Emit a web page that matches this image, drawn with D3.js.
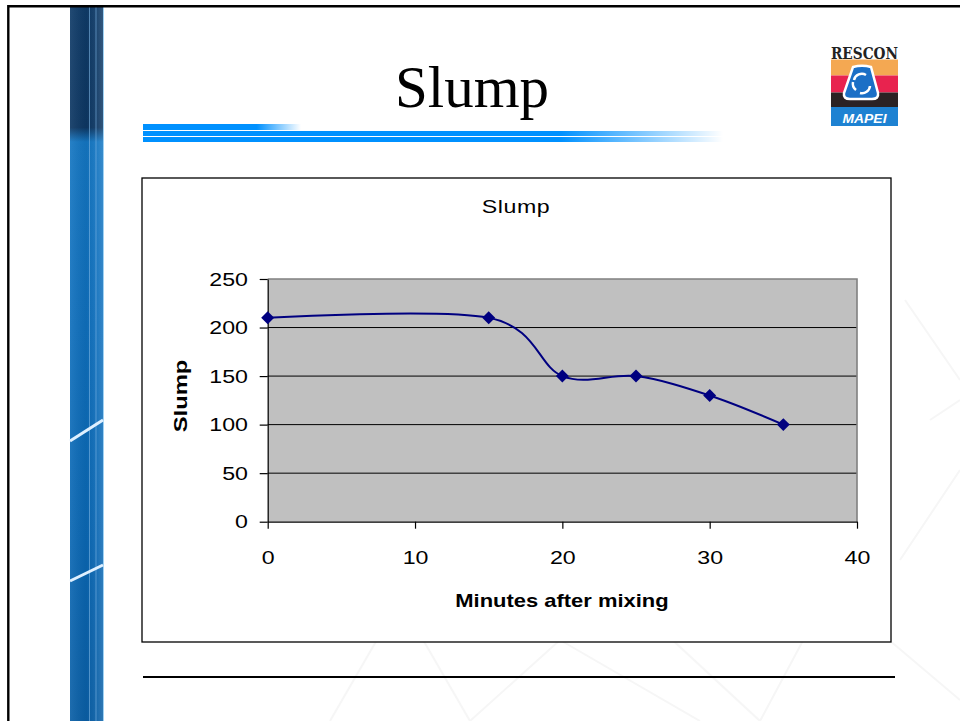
<!DOCTYPE html>
<html><head><meta charset="utf-8">
<script src="https://cdn.jsdelivr.net/npm/d3@7"></script>
<style>body{margin:0;background:#fff;overflow:hidden}svg{display:block}</style>
</head><body><svg id="c" width="960" height="721"></svg>
<script>
// ---- data ----
const minutes = [0, 15, 20, 25, 30, 35];
const slump = [210, 210, 150, 150, 130, 100];
const xTicks = [0, 10, 20, 30, 40];
const yTicks = [0, 50, 100, 150, 200, 250];
const slideTitle = "Slump";
const chartTitle = "Slump";
const xTitle = "Minutes after mixing";
const yTitle = "Slump";

const svg = d3.select("#c");
const defs = svg.append("defs");
const SANS = "'Liberation Sans', Arial, sans-serif";
const SX = 1.22; // horizontal stretch of chart text

// ---- slide decoration ----
// watermark (very faint)
const wm = svg.append("g").attr("stroke", "#f6f6f6").attr("stroke-width", 2).attr("fill", "none");
[[330,721,400,600],[400,600,470,721],[470,721,560,640],[560,640,700,721],[640,610,760,721],[760,721,830,590],[830,590,960,700],[900,560,960,470],[905,300,960,380],[930,420,960,400],[520,600,640,610]]
  .forEach(d => wm.append("line").attr("x1", d[0]).attr("y1", d[1]).attr("x2", d[2]).attr("y2", d[3]));

// left blue bar
const g1 = defs.append("linearGradient").attr("id", "barg").attr("x1", 0).attr("y1", 0).attr("x2", 0).attr("y2", 1);
[[0, "#0f3b68"], [0.17, "#0d3763"], [0.19, "#1476c2"], [0.45, "#0f6fbc"], [0.75, "#0a67b3"], [1, "#0a5fa6"]]
  .forEach(s => g1.append("stop").attr("offset", s[0]).attr("stop-color", s[1]));
const g2 = defs.append("linearGradient").attr("id", "barh").attr("x1", 0).attr("y1", 0).attr("x2", 1).attr("y2", 0);
[[0, "#ffffff", 0.08], [0.5, "#000000", 0.05], [0.8, "#ffffff", 0.06], [1, "#ffffff", 0.15]]
  .forEach(s => g2.append("stop").attr("offset", s[0]).attr("stop-color", s[1]).attr("stop-opacity", s[2]));
svg.append("rect").attr("x", 70).attr("y", 6).attr("width", 33).attr("height", 715).attr("fill", "url(#barg)");
svg.append("rect").attr("x", 70).attr("y", 6).attr("width", 33).attr("height", 715).attr("fill", "url(#barh)");
svg.append("line").attr("x1", 89.5).attr("x2", 89.5).attr("y1", 6).attr("y2", 721).attr("stroke", "#7fb6e2").attr("stroke-opacity", 0.6);
svg.append("line").attr("x1", 96).attr("x2", 96).attr("y1", 6).attr("y2", 721).attr("stroke", "#7fb6e2").attr("stroke-opacity", 0.6);
svg.append("line").attr("x1", 103.5).attr("x2", 103.5).attr("y1", 6).attr("y2", 721).attr("stroke", "#9fd2f4");
svg.append("line").attr("x1", 103).attr("y1", 420).attr("x2", 70).attr("y2", 441).attr("stroke", "#dff0ff").attr("stroke-width", 3);
svg.append("line").attr("x1", 103).attr("y1", 565).attr("x2", 70).attr("y2", 581).attr("stroke", "#dff0ff").attr("stroke-width", 3);

// slide frame
svg.append("line").attr("x1", 8).attr("x2", 960).attr("y1", 6.2).attr("y2", 6.2).attr("stroke", "#000").attr("stroke-width", 2.4);
svg.append("line").attr("x1", 8.3).attr("x2", 8.3).attr("y1", 5).attr("y2", 721).attr("stroke", "#000").attr("stroke-width", 2.4);

// title
svg.append("text").attr("x", 472).attr("y", 107).attr("text-anchor", "middle")
  .attr("font-family", "'Liberation Serif', 'Times New Roman', serif").attr("font-size", 59).attr("fill", "#000")
  .text(slideTitle);

// blue rule lines under title
function hgrad(id, solidTo, fadeTo) {
  const g = defs.append("linearGradient").attr("id", id).attr("x1", 0).attr("x2", 1).attr("y1", 0).attr("y2", 0);
  g.append("stop").attr("offset", 0).attr("stop-color", "#0091ff");
  g.append("stop").attr("offset", solidTo).attr("stop-color", "#0091ff");
  g.append("stop").attr("offset", fadeTo).attr("stop-color", "#0091ff").attr("stop-opacity", 0);
}
hgrad("l1", 0.72, 1);
hgrad("l2", 0.72, 1);
svg.append("rect").attr("x", 143).attr("y", 124).attr("width", 158).attr("height", 6).attr("fill", "url(#l1)");
svg.append("rect").attr("x", 143).attr("y", 131).attr("width", 580).attr("height", 5).attr("fill", "url(#l2)");
svg.append("rect").attr("x", 143).attr("y", 137).attr("width", 580).attr("height", 5).attr("fill", "url(#l2)");

// logo
const lg = svg.append("g");
lg.append("text").attr("x", 831).attr("y", 58.5).attr("textLength", 67).attr("lengthAdjust", "spacingAndGlyphs")
  .attr("font-family", "'DejaVu Serif', 'Liberation Serif', serif").attr("font-weight", "bold").attr("font-size", 16).attr("fill", "#222").text("RESCON");
lg.append("rect").attr("x", 831).attr("y", 59.5).attr("width", 67).attr("height", 16).attr("fill", "#f4a852");
lg.append("rect").attr("x", 831).attr("y", 75.5).attr("width", 67).attr("height", 17).attr("fill", "#e8234f");
lg.append("rect").attr("x", 831).attr("y", 92.5).attr("width", 67).attr("height", 14.5).attr("fill", "#2b2224");
lg.append("rect").attr("x", 831).attr("y", 107).attr("width", 67).attr("height", 19).attr("fill", "#1e82d2");
lg.append("path").attr("d", "M853,67 Q862,64.5 871,67 L878,93 Q879,99 872,99 L850,99 Q843,99 844,93 Z")
  .attr("fill", "#1b6fc6").attr("stroke", "#fff").attr("stroke-width", 2.5);
lg.append("path").attr("d", "M854,80 A8,8 0 0 1 866,75 M870,86 A8,8 0 0 1 860,93 M856,90 A8,8 0 0 1 853,82")
  .attr("fill", "none").attr("stroke", "#fff").attr("stroke-width", 2.5);
lg.append("text").attr("x", 864.5).attr("y", 123).attr("text-anchor", "middle").attr("textLength", 44).attr("lengthAdjust", "spacingAndGlyphs")
  .attr("font-family", SANS).attr("font-weight", "bold").attr("font-style", "italic").attr("font-size", 12).attr("fill", "#fff").text("MAPEI");

// ---- chart ----
svg.append("rect").attr("x", 142).attr("y", 178).attr("width", 749).attr("height", 464)
  .attr("fill", "#fff").attr("stroke", "#000").attr("stroke-width", 1.3);

// footer rule
svg.append("line").attr("x1", 143).attr("x2", 895).attr("y1", 677).attr("y2", 677).attr("stroke", "#000").attr("stroke-width", 2);

const P = { l: 267.7, r: 857, t: 279, b: 521.7 };
const x = d3.scaleLinear().domain([0, 40]).range([P.l, P.r]);
const y = d3.scaleLinear().domain([0, 250]).range([P.b, P.t]);

svg.append("rect").attr("x", P.l).attr("y", P.t).attr("width", P.r - P.l).attr("height", P.b - P.t).attr("fill", "#c0c0c0");
// gridlines
svg.append("g").selectAll("line").data(yTicks.filter(v => v > 0 && v < 250)).join("line")
  .attr("x1", P.l).attr("x2", P.r).attr("y1", d => y(d)).attr("y2", d => y(d))
  .attr("stroke", "#000").attr("stroke-width", 1);
// plot border (top / right)
svg.append("path").attr("d", `M${P.l},${y(250)}H${P.r}V${P.b}`).attr("fill", "none").attr("stroke", "#808080").attr("stroke-width", 1.6);

// axes
const yAx = svg.append("g").attr("transform", `translate(${P.l},0)`)
  .call(d3.axisLeft(y).tickValues(yTicks).tickSize(8).tickSizeOuter(0).tickFormat(d3.format("d")));
yAx.selectAll("text").attr("x", -19.7 / SX).attr("dy", "0.33em").attr("transform", `scale(${SX},1)`);
const xAx = svg.append("g").attr("transform", `translate(0,${P.b})`)
  .call(d3.axisBottom(x).tickValues(xTicks).tickSize(7).tickSizeOuter(0).tickFormat(d3.format("d")));
xAx.selectAll("text").attr("y", 42.3).attr("dy", 0).attr("transform", `scale(${SX},1)`);
[yAx, xAx].forEach(a => {
  a.attr("font-family", SANS).attr("font-size", 19);
  a.selectAll("text").attr("fill", "#000");
  a.selectAll("line,path").attr("stroke", "#000").attr("stroke-width", 1.2);
});

// series
const pts = minutes.map((m, i) => [m, slump[i]]);
svg.append("path").datum(pts)
  .attr("d", d3.line().x(d => x(d[0])).y(d => y(d[1])).curve(d3.curveCardinal.tension(0)))
  .attr("fill", "none").attr("stroke", "#000080").attr("stroke-width", 2);
svg.append("g").selectAll("path").data(pts).join("path")
  .attr("d", d3.symbol(d3.symbolSquare, 84))
  .attr("transform", d => `translate(${x(d[0])},${y(d[1])}) rotate(45)`)
  .attr("fill", "#000080");

// chart texts
svg.append("text").attr("transform", `translate(516,213) scale(${SX},1)`).attr("text-anchor", "middle")
  .attr("font-family", SANS).attr("font-size", 19).attr("letter-spacing", 0.5).text(chartTitle);
svg.append("text").attr("transform", `translate(562,607) scale(${SX},1)`).attr("text-anchor", "middle")
  .attr("font-family", SANS).attr("font-weight", "bold").attr("font-size", 18).text(xTitle);
svg.append("text").attr("transform", `translate(187,396) rotate(-90) scale(1.25,1)`).attr("text-anchor", "middle")
  .attr("font-family", SANS).attr("font-weight", "bold").attr("font-size", 19).text(yTitle);
</script></body></html>
